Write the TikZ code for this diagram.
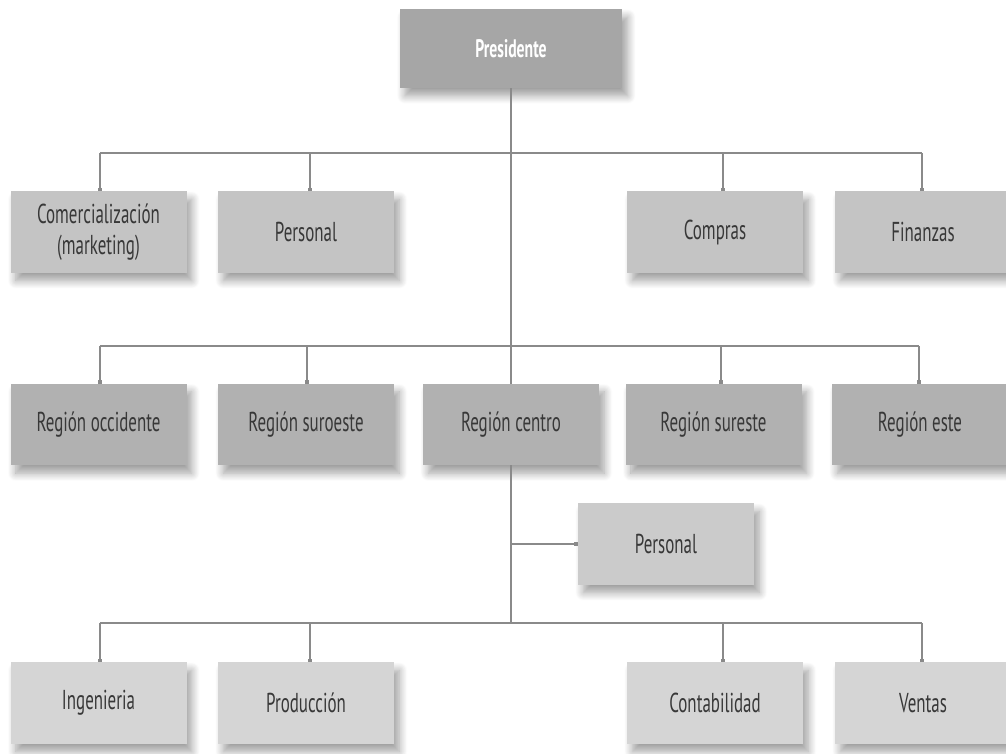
\documentclass[tikz,border=0pt]{standalone}
\usepackage{fontspec}
\setmainfont{PT Sans}[FakeStretch=0.62]
\usetikzlibrary{shadows.blur,arrows.meta}
\definecolor{cpres}{HTML}{A6A6A6}
\definecolor{cone}{HTML}{C4C4C4}
\definecolor{ctwo}{HTML}{B1B1B1}
\definecolor{cstaff}{HTML}{CBCBCB}
\definecolor{cthree}{HTML}{D5D5D5}
\definecolor{cline}{HTML}{8A8A8A}
\definecolor{ctext}{HTML}{383838}
\tikzset{
  box/.style={rectangle, minimum width=132pt, minimum height=61pt, inner sep=0pt,
    text=ctext, align=center, font=\fontsize{20.5pt}{23pt}\selectfont,
    blur shadow={shadow xshift=4pt, shadow yshift=-6pt, shadow blur steps=12, shadow opacity=38, shadow blur radius=6pt}},
  conn/.style={draw=cline, line width=1.5pt},
  stem/.style={conn, -{Square[length=2.5pt,width=3.5pt]}}
}
\begin{document}
\begin{tikzpicture}[x=0.75pt,y=-0.75pt]
\useasboundingbox (0,0) rectangle (1006,753);
% top
\node[box, fill=cpres, minimum width=167pt, minimum height=59pt, text=white, font=\bfseries\fontsize{19pt}{21pt}\selectfont] (pres) at (511,48.5) {Presidente};
% row 1
\node[box, fill=cone] (com) at (98.5,232) {Comercialización\\(marketing)};
\node[box, fill=cone] (per1) at (306,232) {Personal};
\node[box, fill=cone] (comp) at (715,232) {Compras};
\node[box, fill=cone] (fin) at (923,232) {Finanzas};
% row 2
\node[box, fill=ctwo] (occ) at (98.5,424.5) {Región occidente};
\node[box, fill=ctwo] (suro) at (306,424.5) {Región suroeste};
\node[box, fill=ctwo] (cen) at (511,424.5) {Región centro};
\node[box, fill=ctwo] (sure) at (713.5,424.5) {Región sureste};
\node[box, fill=ctwo] (este) at (920,424.5) {Región este};
% staff
\node[box, fill=cstaff] (staff) at (666,544) {Personal};
% row 3
\node[box, fill=cthree] (ing) at (98.5,703) {Ingenieria};
\node[box, fill=cthree] (prod) at (306,703) {Producción};
\node[box, fill=cthree] (cont) at (715,703) {Contabilidad};
\node[box, fill=cthree] (vent) at (923,703) {Ventas};
% bus coordinates
\coordinate (bus1) at (511,153);
\coordinate (bus2) at (511,346);
\coordinate (bus3) at (511,623);
% main vertical
\draw[conn] (pres.south) -- (cen.north);
\draw[conn] (cen.south) -- (bus3);
% row 1 bus and stems
\draw[conn] ([xshift=1.1pt]com.north |- bus1) -- ([xshift=-0.75pt]fin.north |- bus1);
\draw[stem] ([xshift=1.1pt]com.north |- bus1) -- ([xshift=1.1pt]com.north);
\draw[stem] ([xshift=3pt]per1.north |- bus1) -- ([xshift=3pt]per1.north);
\draw[stem] ([xshift=6pt]comp.north |- bus1) -- ([xshift=6pt]comp.north);
\draw[stem] ([xshift=-0.75pt]fin.north |- bus1) -- ([xshift=-0.75pt]fin.north);
% row 2
\draw[conn] ([xshift=1.1pt]occ.north |- bus2) -- ([xshift=-0.75pt]este.north |- bus2);
\draw[stem] ([xshift=1.1pt]occ.north |- bus2) -- ([xshift=1.1pt]occ.north);
\draw[stem] ([xshift=0.75pt]suro.north |- bus2) -- ([xshift=0.75pt]suro.north);
\draw[stem] ([xshift=5.6pt]sure.north |- bus2) -- ([xshift=5.6pt]sure.north);
\draw[stem] ([xshift=-0.75pt]este.north |- bus2) -- ([xshift=-0.75pt]este.north);
% staff link
\draw[stem] (cen.south |- staff.west) -- (staff.west);
% row 3
\draw[conn] ([xshift=1.1pt]ing.north |- bus3) -- ([xshift=-0.75pt]vent.north |- bus3);
\draw[stem] ([xshift=1.1pt]ing.north |- bus3) -- ([xshift=1.1pt]ing.north);
\draw[stem] ([xshift=3pt]prod.north |- bus3) -- ([xshift=3pt]prod.north);
\draw[stem] ([xshift=6pt]cont.north |- bus3) -- ([xshift=6pt]cont.north);
\draw[stem] ([xshift=-0.75pt]vent.north |- bus3) -- ([xshift=-0.75pt]vent.north);
\end{tikzpicture}
\end{document}
